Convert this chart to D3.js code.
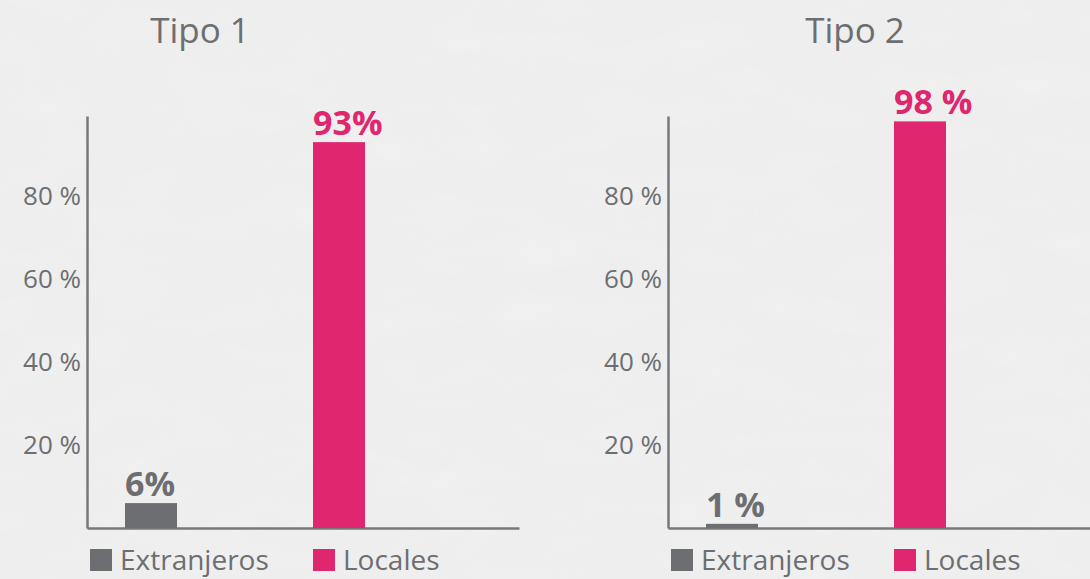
<!DOCTYPE html>
<html>
<head>
<meta charset="utf-8">
<script src="https://cdn.jsdelivr.net/npm/d3@7"></script>
<style>
  html, body { margin: 0; padding: 0; background: #f0f0f0; }
  svg { display: block; }
  text { font-family: "Open Sans", "Noto Sans", sans-serif; }
</style>
</head>
<body>
<svg id="chart" width="1090" height="579"></svg>
<script>
// Share of visitors by origin, for each type
const panelTitles = ["Tipo 1", "Tipo 2"];
const categories = ["Extranjeros", "Locales"];
const tipo1Values = [6, 93];
const tipo2Values = [1, 98];
const tipo1Labels = ["6%", "93%"];
const tipo2Labels = ["1 %", "98 %"];
const tickValues = [20, 40, 60, 80];
const tickLabels = ["20 %", "40 %", "60 %", "80 %"];

const colors = { Extranjeros: "#6d6e71", Locales: "#e0266f" };
const axisColor = "#77787b";
const textColor = "#6d6e71";

const svg = d3.select("#chart");

// paper-like background
const defs = svg.append("defs");
const paper = defs.append("filter").attr("id", "paper")
  .attr("x", 0).attr("y", 0).attr("width", "100%").attr("height", "100%");
paper.append("feTurbulence")
  .attr("type", "fractalNoise").attr("baseFrequency", "0.012 0.03")
  .attr("numOctaves", 3).attr("seed", 7).attr("result", "noise");
paper.append("feColorMatrix").attr("in", "noise").attr("type", "matrix")
  .attr("values", "0 0 0 0 1  0 0 0 0 1  0 0 0 0 1  0 0 0 0.5 -0.2");
svg.append("rect").attr("width", 1090).attr("height", 579).attr("fill", "#eeeeee");
svg.append("rect").attr("width", 1090).attr("height", 579).attr("filter", "url(#paper)").attr("opacity", 0.5);

const panels = [
  { title: panelTitles[0], values: tipo1Values, labels: tipo1Labels, axisX: 87, axisEnd: 519, titleX: 200 },
  { title: panelTitles[1], values: tipo2Values, labels: tipo2Labels, axisX: 668, axisEnd: 1090, titleX: 855 }
];

const y = d3.scaleLinear().domain([0, 99.3]).range([528, 116]);

panels.forEach(p => {
  const g = svg.append("g");

  const x = d3.scalePoint().domain(categories).range([p.axisX + 64, p.axisX + 252]);
  const barW = 52;

  // title
  g.append("text")
    .attr("x", p.titleX).attr("y", 43)
    .attr("text-anchor", "middle")
    .attr("font-size", 35)
    .attr("fill", textColor)
    .text(p.title);

  // y axis
  const yAxis = d3.axisLeft(y)
    .tickValues(tickValues)
    .tickFormat((d, i) => tickLabels[i])
    .tickSize(0)
    .tickPadding(6);
  const ya = g.append("g").attr("transform", `translate(${p.axisX},0)`).call(yAxis);
  ya.select(".domain").attr("stroke", axisColor).attr("stroke-width", 2.5);
  ya.selectAll(".tick text")
    .attr("font-size", 26)
    .attr("fill", textColor)
    .attr("font-family", "'Open Sans', sans-serif");

  // x axis baseline
  const xAxisScale = d3.scaleLinear().range([p.axisX, p.axisEnd]);
  const xa = g.append("g").attr("transform", `translate(0,${y(0)})`)
    .call(d3.axisBottom(xAxisScale).tickValues([]).tickSizeOuter(0));
  xa.select(".domain").attr("stroke", axisColor).attr("stroke-width", 2.5);

  // bars
  g.selectAll(".bar").data(categories).enter().append("rect")
    .attr("x", d => x(d) - barW / 2)
    .attr("y", (d, i) => y(p.values[i]))
    .attr("width", barW)
    .attr("height", (d, i) => y(0) - y(p.values[i]))
    .attr("fill", d => colors[d]);

  // value labels
  g.selectAll(".val").data(categories).enter().append("text")
    .attr("x", d => x(d) - barW / 2)
    .attr("y", (d, i) => y(p.values[i]) - 7)
    .attr("font-size", 34)
    .attr("font-weight", 700)
    .attr("fill", d => colors[d])
    .text((d, i) => p.labels[i]);

  // legend
  const legendX = [p.axisX + 3, p.axisX + 226];
  const lg = g.selectAll(".leg").data(categories).enter().append("g")
    .attr("transform", (d, i) => `translate(${legendX[i]},549)`);
  lg.append("rect").attr("width", 22).attr("height", 22).attr("fill", d => colors[d]);
  lg.append("text")
    .attr("x", 30).attr("y", 21)
    .attr("font-size", 28)
    .attr("fill", textColor)
    .text(d => d);
});
</script>
</body>
</html>
